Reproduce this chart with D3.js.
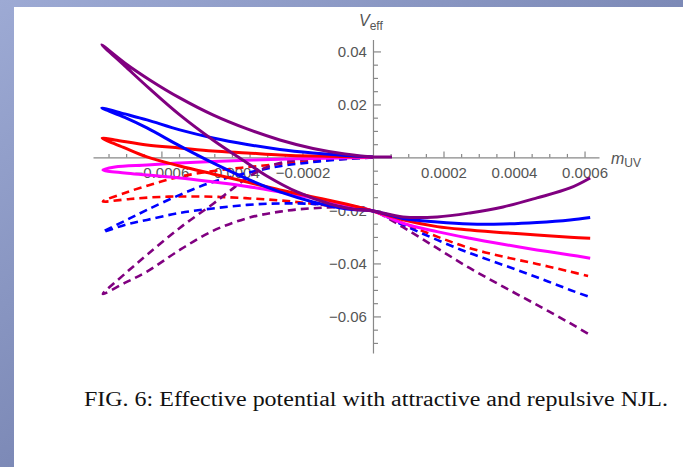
<!DOCTYPE html>
<html>
<head>
  <meta charset="utf-8">
  <title>Effective potential</title>
  <style>
    body { margin: 0; background: #fff; }
    svg { display: block; }
  </style>
</head>
<body>
<script src="https://d3js.org/d3.v7.min.js"></script>
<svg id="chart" width="683" height="467"></svg>

<script>
    // tick values
    var xMajor = [-0.0006, -0.0004, -0.0002, 0.0002, 0.0004, 0.0006];
    var yMajor = [-0.06, -0.04, -0.02, 0.02, 0.04];
    var xMinor = d3.range(-15, 13).map(function(i) { return i * 0.00005; })
                   .filter(function(v) { return Math.abs(v / 0.0002 - Math.round(v / 0.0002)) > 1e-6; });
    var yMinor = d3.range(-14, 9).map(function(i) { return i * 0.005; })
                   .filter(function(v) { return Math.abs(v / 0.02 - Math.round(v / 0.02)) > 1e-6; });

    // curves: [m_UV, V_eff]
    var purpleSolid = [
        [0.000616,-0.00774],[0.000559,-0.01151],[0.000465,-0.01528],[0.000369,-0.01868],[0.000275,-0.02094],
        [0.000182,-0.02245],[0.000085,-0.02245],[0,-0.0202],
        [-0.000051,-0.01962],[-0.000122,-0.01755],[-0.000215,-0.01302],[-0.000301,-0.00698],[-0.000357,-0.00208],
        [-0.000454,0.0066],[-0.000548,0.01604],[-0.000633,0.02585],[-0.000704,0.03453],[-0.000769,0.0425],
        [-0.000704,0.03566],[-0.000633,0.02925],[-0.000548,0.02245],[-0.000454,0.01604],[-0.000357,0.01075],
        [-0.000264,0.0066],[-0.000170,0.0034],[-0.0000794,0.00132],[0,0.0002],[0.000054,0.0002]
    ];
    var blueSolid = [
        [0.000616,-0.02264],[0.000559,-0.02358],[0.000465,-0.02453],[0.000369,-0.02509],[0.000275,-0.02509],
        [0.000182,-0.02434],[0.000085,-0.02302],[0,-0.0202],
        [-0.0000738,-0.01943],[-0.000170,-0.01679],[-0.000264,-0.01302],[-0.000357,-0.00811],[-0.000454,-0.00208],
        [-0.000548,0.00434],[-0.000641,0.01113],[-0.000704,0.01509],[-0.000769,0.01868],
        [-0.000704,0.01642],[-0.000641,0.01415],[-0.000548,0.01038],[-0.000454,0.00736],[-0.000357,0.00491],
        [-0.000264,0.00302],[-0.000170,0.0017],[-0.0000794,0.00075],[0,0.0002]
    ];
    var redSolid = [
        [0.000616,-0.03049],[0.000559,-0.03011],[0.000465,-0.02925],[0.000369,-0.02838],[0.000275,-0.02736],
        [0.000182,-0.02611],[0.000085,-0.0235],[0,-0.0202],
        [-0.0000738,-0.0177],[-0.000170,-0.01491],[-0.000264,-0.01226],[-0.000357,-0.00925],[-0.000454,-0.00623],
        [-0.000548,-0.00321],[-0.000641,0.00019],[-0.000704,0.00358],[-0.000768,0.00725],
        [-0.000732,0.0066],[-0.000641,0.00472],[-0.000548,0.00358],[-0.000454,0.00245],[-0.000357,0.0017],
        [-0.000264,0.00094],[-0.000170,0.0005],[0,0.0002]
    ];
    var magentaSolid = [
        [0.000616,-0.03804],[0.000559,-0.03679],[0.000465,-0.03491],[0.000369,-0.03275],[0.000275,-0.03049],
        [0.000182,-0.028],[0.000085,-0.02483],[0,-0.0202],
        [-0.0000738,-0.01792],[-0.000170,-0.01528],[-0.000264,-0.01302],[-0.000357,-0.01094],[-0.000454,-0.00925],
        [-0.000548,-0.00774],[-0.000641,-0.0066],[-0.000704,-0.00585],[-0.000766,-0.00472],
        [-0.000732,-0.00358],[-0.000641,-0.00283],[-0.000548,-0.00208],[-0.000454,-0.00151],[-0.000264,-0.00068],
        [-0.0000936,-0.00019],[0,0]
    ];
    var redDashed = [
        [0,0],[-0.0000652,-0.00038],[-0.000150,-0.00113],[-0.000235,-0.00208],[-0.000321,-0.00321],[-0.000406,-0.00434],
        [-0.000491,-0.00585],[-0.000562,-0.00774],[-0.000633,-0.01038],[-0.000704,-0.01340],[-0.000766,-0.0166],
        [-0.000689,-0.01566],[-0.000604,-0.01491],[-0.000519,-0.01472],[-0.000434,-0.01491],[-0.000349,-0.01547],
        [-0.000264,-0.01623],[-0.000179,-0.01736],[-0.0000936,-0.01868],[0,-0.0202],
        [0.000085,-0.02483],[0.000182,-0.02989],[0.000275,-0.03426],[0.000369,-0.03743],[0.000465,-0.04019],
        [0.000559,-0.04309],[0.00061,-0.04472]
    ];
    var blueDashed = [
        [0,0],[-0.0000936,-0.00075],[-0.000179,-0.00189],[-0.000264,-0.0033],[-0.000357,-0.00585],[-0.000454,-0.00925],
        [-0.000548,-0.01415],[-0.000641,-0.01981],[-0.000704,-0.02396],[-0.000766,-0.02811],
        [-0.000704,-0.02547],[-0.000641,-0.02358],[-0.000548,-0.02094],[-0.000454,-0.01925],[-0.000357,-0.01792],
        [-0.000264,-0.01736],[-0.000170,-0.01755],[-0.0000794,-0.01868],[0,-0.0202],
        [0.000085,-0.02547],[0.000182,-0.03113],[0.000275,-0.03615],[0.000369,-0.04057],[0.000465,-0.04521],
        [0.000559,-0.05],[0.000616,-0.05275]
    ];
    var purpleDashed = [
        [0,0],[-0.000113,-0.00019],[-0.000207,-0.00094],[-0.000264,-0.00208],[-0.000306,-0.00396],[-0.000357,-0.00774],
        [-0.000406,-0.01264],[-0.000454,-0.01755],[-0.000548,-0.0266],[-0.000641,-0.03679],[-0.000704,-0.04396],
        [-0.000766,-0.05151],
        [-0.000704,-0.04736],[-0.000641,-0.04309],[-0.000548,-0.03491],[-0.000454,-0.02774],[-0.000357,-0.02294],
        [-0.000264,-0.02045],[-0.000170,-0.01917],[-0.0000738,-0.01887],[0,-0.0202],
        [0.000085,-0.02634],[0.000182,-0.03426],[0.000275,-0.04181],[0.000369,-0.04875],[0.000465,-0.05566],
        [0.000559,-0.06257],[0.000616,-0.06698]
    ];

    var series = [
        {data: redDashed,    color: "#ff0000", dash: true},
        {data: blueDashed,   color: "#0000ff", dash: true},
        {data: purpleDashed, color: "#800080", dash: true},
        {data: magentaSolid, color: "#ff00ff", dash: false},
        {data: redSolid,     color: "#ff0000", dash: false},
        {data: blueSolid,    color: "#0000ff", dash: false},
        {data: purpleSolid,  color: "#800080", dash: false}
    ];

    var svg = d3.select("#chart");

    // slide background
    var grad = svg.append("defs").append("linearGradient")
        .attr("id", "bg").attr("x1", 0).attr("y1", 0).attr("x2", 1).attr("y2", 1);
    grad.append("stop").attr("offset", 0).attr("stop-color", "#9daad4");
    grad.append("stop").attr("offset", 1).attr("stop-color", "#5d6a9a");
    svg.append("rect").attr("width", 683).attr("height", 467).attr("fill", "url(#bg)");
    svg.append("rect").attr("x", 14).attr("y", 7).attr("width", 669).attr("height", 460).attr("fill", "#fff");

    var x = d3.scaleLinear().domain([-0.000794, 0.000641]).range([93, 599]);
    var y = d3.scaleLinear().domain([-0.0738, 0.0445]).range([353, 39.5]);

    var axisColor = "#888";
    var labelColor = "#555";

    // x axis
    var gx = svg.append("g").attr("transform", "translate(0," + y(0) + ")");
    gx.call(d3.axisBottom(x).tickValues(xMajor).tickFormat(d3.format(".4f"))
        .tickSizeInner(-6).tickSizeOuter(0).tickPadding(10));
    var gxm = svg.append("g").attr("transform", "translate(0," + y(0) + ")");
    gxm.call(d3.axisBottom(x).tickValues(xMinor).tickFormat("").tickSizeInner(-3.5).tickSizeOuter(0));
    gxm.select(".domain").remove();

    // y axis
    var gy = svg.append("g").attr("transform", "translate(" + x(0) + ",0)");
    gy.call(d3.axisLeft(y).tickValues(yMajor).tickFormat(d3.format(".2f"))
        .tickSizeInner(-8).tickSizeOuter(0).tickPadding(6));
    var gym = svg.append("g").attr("transform", "translate(" + x(0) + ",0)");
    gym.call(d3.axisLeft(y).tickValues(yMinor).tickFormat("").tickSizeInner(-5).tickSizeOuter(0));
    gym.select(".domain").remove();

    [gx, gxm, gy, gym].forEach(function(g) {
        g.attr("color", axisColor);
        g.selectAll("path, line").attr("stroke-width", 1.2);
        g.selectAll("text")
            .attr("fill", labelColor)
            .style("font-family", "'Liberation Sans', Arial, sans-serif")
            .style("font-size", "15px");
    });

    // axis labels
    var vl = svg.append("text").attr("x", 359).attr("y", 26)
        .attr("fill", labelColor)
        .style("font-family", "'Liberation Sans', Arial, sans-serif");
    vl.append("tspan").text("V").style("font-style", "italic").style("font-size", "16px");
    vl.append("tspan").text("eff").attr("dy", 4).style("font-size", "12px");

    var ml = svg.append("text").attr("x", 611).attr("y", 164)
        .attr("fill", labelColor)
        .style("font-family", "'Liberation Sans', Arial, sans-serif");
    ml.append("tspan").text("m").style("font-style", "italic").style("font-size", "16px");
    ml.append("tspan").text("UV").attr("dy", 3).style("font-size", "12px");

    // curves
    var line = d3.line()
        .x(function(d) { return x(d[0]); })
        .y(function(d) { return y(d[1]); })
        .curve(d3.curveCatmullRom.alpha(0.5));

    svg.append("g").selectAll("path")
        .data(series)
        .enter()
        .append("path")
        .attr("d", function(s) { return line(s.data); })
        .attr("fill", "none")
        .attr("stroke", function(s) { return s.color; })
        .attr("stroke-width", function(s) { return s.dash ? 2.6 : 3; })
        .attr("stroke-dasharray", function(s) { return s.dash ? "8,5" : null; })
        .attr("stroke-linejoin", "round");

    // caption
    svg.append("text")
        .attr("x", 84).attr("y", 406)
        .attr("textLength", 584).attr("lengthAdjust", "spacingAndGlyphs")
        .attr("fill", "#111")
        .style("font-family", "'Liberation Serif', 'DejaVu Serif', serif")
        .style("font-size", "20px")
        .text("FIG. 6: Effective potential with attractive and repulsive NJL.");
</script>
</body>
</html>
